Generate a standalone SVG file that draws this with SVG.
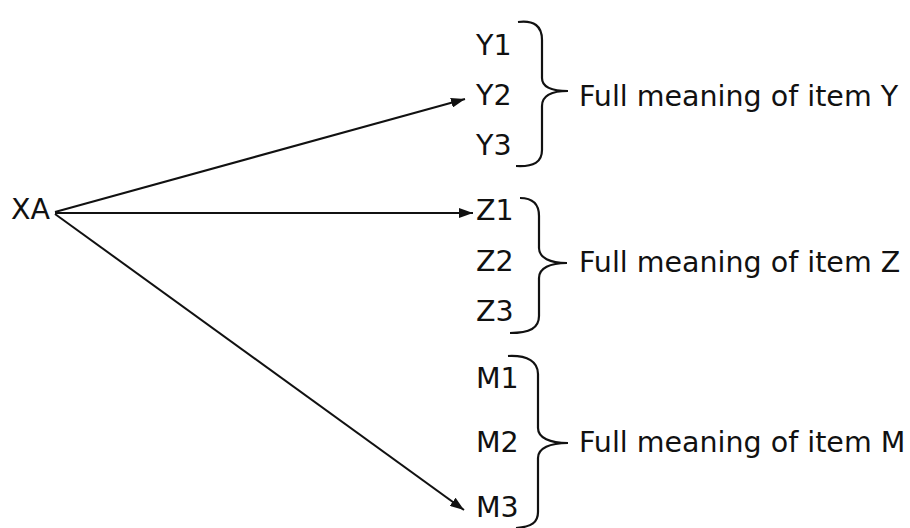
<svg xmlns="http://www.w3.org/2000/svg" width="910" height="528" viewBox="0 0 910 528">
  <style>
    text { font-family: "DejaVu Sans", Verdana, sans-serif; font-size: 28.5px; fill: #111; }
    .edge { stroke: #111; stroke-width: 2; fill: none; }
    .brace { stroke: #111; stroke-width: 2.2; fill: none; }
  </style>
  <defs>
    <marker id="arrow" viewBox="0 0 14 10" refX="14" refY="5" markerWidth="14" markerHeight="10" markerUnits="userSpaceOnUse" orient="auto">
      <path d="M0,0 L14,5 L0,10 Z" fill="#111"/>
    </marker>
  </defs>
  <rect width="910" height="528" fill="#fff"/>

  <g id="connectors">
    <line class="edge" x1="55" y1="212" x2="465" y2="99" marker-end="url(#arrow)"/>
    <line class="edge" x1="55" y1="213" x2="473" y2="213" marker-end="url(#arrow)"/>
    <line class="edge" x1="55" y1="214" x2="464" y2="510" marker-end="url(#arrow)"/>
  </g>

  <g id="node-xa"><text x="11" y="219">XA</text></g>

  <g id="group-y">
    <text x="476" y="55">Y1</text>
    <text x="476" y="105">Y2</text>
    <text x="476" y="155">Y3</text>
    <path class="brace" d="M518,22 C534,20 542,26 542,40 V78 C542,88 552,91 568,91 C552,91 542,95 542,106 V150 C542,162 534,167 516,166"/>
    <text x="579" y="106">Full meaning of item Y</text>
  </g>

  <g id="group-z">
    <text x="476" y="220">Z1</text>
    <text x="476" y="271">Z2</text>
    <text x="476" y="321">Z3</text>
    <path class="brace" d="M520,198 C532,198 539,204 539,216 V248 C539,258 550,263 567,263 C550,263 539,268 539,278 V316 C539,328 530,333 510,333"/>
    <text x="579" y="272">Full meaning of item Z</text>
  </g>

  <g id="group-m">
    <text x="476" y="388">M1</text>
    <text x="476" y="452">M2</text>
    <text x="476" y="517">M3</text>
    <path class="brace" d="M508,356 C528,355 538,362 538,374 V428 C538,438 550,443 568,443 C550,443 538,448 538,458 V512 C538,522 532,527 516,528"/>
    <text x="579" y="452">Full meaning of item M</text>
  </g>
</svg>
